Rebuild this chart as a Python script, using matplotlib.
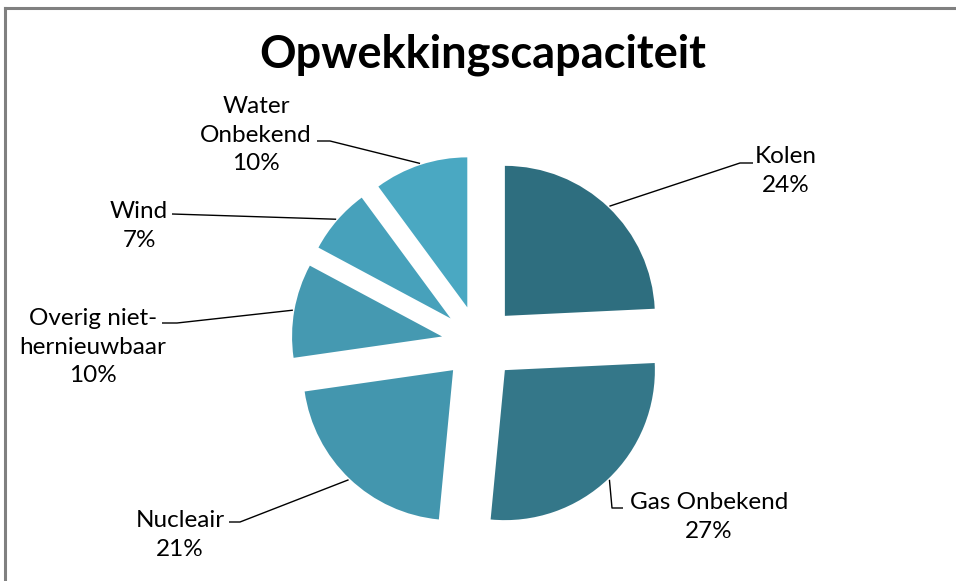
import matplotlib
matplotlib.use("Agg")
import matplotlib.pyplot as plt
from matplotlib.lines import Line2D
import numpy as np

# Generation capacity shares (%)
categories = ["Kolen", "Gas Onbekend", "Nucleair",
              "Overig niet-\nhernieuwbaar", "Wind", "Water\nOnbekend"]
shares = [24, 27, 21, 10, 7, 10]
colors = ["#2E6E7F", "#347789", "#4396AE", "#4599B1", "#47A1BB", "#4AA8C2"]
title = "Opwekkingscapaciteit"

W, H = 956, 581
DPI = 100
fig = plt.figure(figsize=(W / DPI, H / DPI), dpi=DPI)
fig.patch.set_facecolor("white")

# pie centre and radius in pixels; axes spans the whole figure with 1 data unit = R px
CX, CY, R = 479, 343, 150
ax = fig.add_axes([0, 0, 1, 1])
ax.axis("off")


def px(x, y):
    """pixel position (origin top-left) -> data coordinates"""
    return (x - CX) / R, (CY - y) / R


wedges, _ = ax.pie(shares, colors=colors, startangle=90, counterclock=False,
                   explode=[0.25] * len(shares), radius=1, center=(0, 0),
                   wedgeprops=dict(linewidth=0), frame=False)
ax.set_xlim(-CX / R, (W - CX) / R)
ax.set_ylim(-(H - CY) / R, CY / R)
ax.set_aspect("auto")

font = "Lato"
fs = 17.5

# label block centres (px) and leader line elbows (px)
label_pos = [(786, 171), (709, 517), (180, 535), (93, 347), (139, 226), (256, 135)]
leaders = [
    [(740, 163), (753, 163)],
    [(612, 508), (623, 508)],
    [(240, 522), (229, 522)],
    [(177, 323), (162, 323)],
    [(172, 214)],
    [(330, 141), (317, 141)],
]

for w, name, val, pos, elbow in zip(wedges, categories, shares, label_pos, leaders):
    mid = np.deg2rad((w.theta1 + w.theta2) / 2)
    cx, cy = w.center
    start = (cx + w.r * 1.01 * np.cos(mid), cy + w.r * 1.01 * np.sin(mid))
    pts = [start] + [px(*p) for p in elbow]
    xs, ys = zip(*pts)
    ax.add_line(Line2D(xs, ys, color="black", lw=1.0, solid_capstyle="butt"))
    tx, ty = px(*pos)
    ax.text(tx, ty, f"{name}\n{val}%", ha="center", va="center",
            multialignment="center", fontsize=fs, family=font,
            linespacing=1.42, color="black")

# chart title
tx, ty = px(483, 68)
ax.text(tx, ty, title, ha="center", va="baseline", fontsize=32.5,
        family=font, fontweight="bold", color="black")

# chart area frame (top and left edges)
fig.add_artist(Line2D([5 / W, 1], [1 - 8 / H, 1 - 8 / H], transform=fig.transFigure,
                      color="#808080", lw=2.2))
fig.add_artist(Line2D([5 / W, 5 / W], [0, 1 - 8 / H], transform=fig.transFigure,
                      color="#808080", lw=2.2))

fig.savefig("out.png", dpi=DPI, facecolor="white")
